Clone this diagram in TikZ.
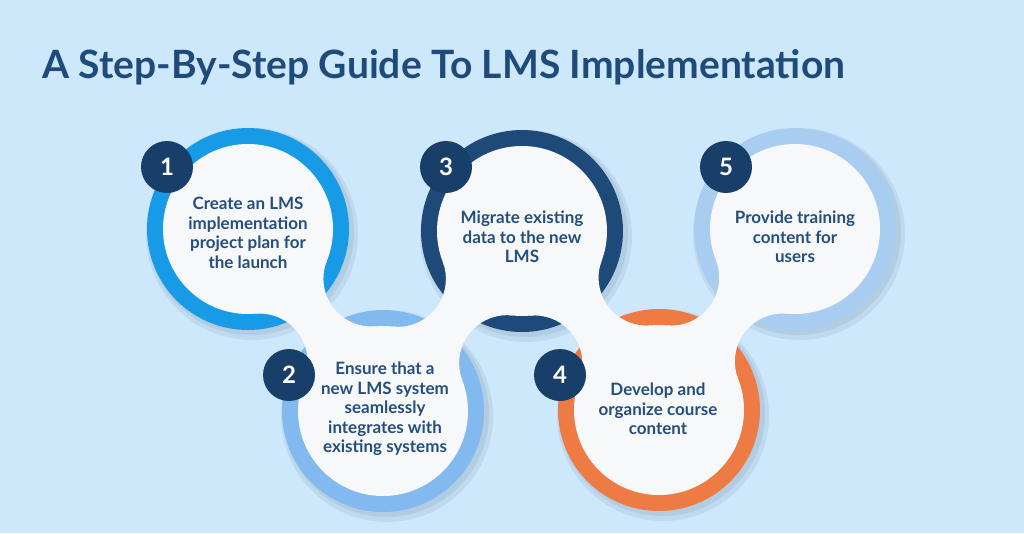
\documentclass[tikz,border=0pt]{standalone}
\usepackage{fontspec}
\setmainfont{Lato}
\usetikzlibrary{calc}
\definecolor{bg}{HTML}{CDE7FB}
\definecolor{ringA}{HTML}{189BE6}
\definecolor{ringB}{HTML}{82B9EE}
\definecolor{ringC}{HTML}{1D4A78}
\definecolor{ringD}{HTML}{EE7A44}
\definecolor{ringE}{HTML}{A9CDF1}
\definecolor{innerc}{HTML}{F7F8FA}
\definecolor{navy}{HTML}{173F69}
\definecolor{txt}{HTML}{244E7D}
\definecolor{titlec}{HTML}{1F4B7B}
\def\Rin{85}
\def\Rout{101}
\def\Rf{48}
\newcommand\mkneck[3]{%
  \path let \p1=(#1), \p2=(#2),
    \n1={veclen(\x2-\x1,\y2-\y1)/2},
    \n2={100*sqrt(((\Rin+\Rf)/100)^2-(\n1/100)^2)} in
    coordinate (#3a) at ($(#1)!0.5!(#2)!\n2!90:(#2)$)
    coordinate (#3b) at ($(#1)!0.5!(#2)!\n2!-90:(#2)$);
  \path coordinate (#3a1) at ($(#1)!{\Rin/(\Rin+\Rf)}!(#3a)$)
        coordinate (#3a2) at ($(#2)!{\Rin/(\Rin+\Rf)}!(#3a)$)
        coordinate (#3b1) at ($(#1)!{\Rin/(\Rin+\Rf)}!(#3b)$)
        coordinate (#3b2) at ($(#2)!{\Rin/(\Rin+\Rf)}!(#3b)$);
  \fill[innerc] let \p1=(#3a), \p2=(#3a1), \p3=(#3a2),
      \p4=(#3b), \p5=(#3b2), \p6=(#3b1),
      \n1={atan2(\y2-\y1,\x2-\x1)}, \n2={atan2(\y3-\y1,\x3-\x1)},
      \n3={mod(\n2-\n1+540,360)-180},
      \n4={atan2(\y5-\y4,\x5-\x4)}, \n5={atan2(\y6-\y4,\x6-\x4)},
      \n6={mod(\n5-\n4+540,360)-180} in
    (#1) -- (#3a1) arc[start angle=-\n1, delta angle=-\n3, radius=\Rf]
    -- (#2) -- (#3b2) arc[start angle=-\n4, delta angle=-\n6, radius=\Rf]
    -- cycle;}
\tikzset{
  badge/.style={circle, fill=navy, minimum size=52pt, inner sep=0pt, text=white,
    font=\fontsize{24}{24}\selectfont\bfseries},
  steptext/.style={align=center, text=txt, font=\fontsize{17}{19.6}\selectfont\bfseries},
  shadowc/.style={fill=black!40!ringC, opacity=0.07}
}
\begin{document}
\begin{tikzpicture}[x=1pt,y=-1pt]
\useasboundingbox (0,0) rectangle (1024,533);
\fill[bg] (0,0) rectangle (1024,533);
\node[anchor=base west, inner sep=0pt, text=titlec,
  font=\fontsize{39}{39}\selectfont\bfseries] (title) at (42,78)
  {A Step-By-Step Guide To LMS Implementation};
\coordinate (c1) at (248,229);
\coordinate (c2) at (383,411);
\coordinate (c3) at (522,231);
\coordinate (c4) at (659,410);
\coordinate (c5) at (795,229);
% soft shadows
\foreach \c in {c1,c2,c3,c4,c5}{
  \fill[shadowc] ($(\c)+(4,5)$) circle[radius=\Rout+5];
  \fill[shadowc] ($(\c)+(3,3)$) circle[radius=\Rout+2];
}
% rings
\fill[ringA] (c1) circle[radius=\Rout];
\fill[ringB] (c2) circle[radius=\Rout];
\fill[ringC] (c3) circle[radius=\Rout];
\fill[ringD] (c4) circle[radius=\Rout];
\fill[ringE] (c5) circle[radius=\Rout];
% inner discs
\foreach \c in {c1,c2,c3,c4,c5}{
  \fill[innerc] (\c) circle[radius=\Rin];
}
% necks
\mkneck{c1}{c2}{n12}
\mkneck{c2}{c3}{n23}
\mkneck{c3}{c4}{n34}
\mkneck{c4}{c5}{n45}
% badges
\node[badge] (b1) at (167,167) {1};
\node[badge] (b2) at (289,375) {2};
\node[badge] (b3) at (446,167) {3};
\node[badge] (b4) at (560,375) {4};
\node[badge] (b5) at (726,167) {5};
% texts
\node[steptext] (t1) at (248,233) {Create an LMS\\implementation\\project plan for\\the launch};
\node[steptext] (t2) at (385,409) {Ensure that a\\new LMS system\\seamlessly\\integrates with\\existing systems};
\node[steptext] (t3) at (522,237) {Migrate existing\\data to the new\\LMS};
\node[steptext] (t4) at (658,409) {Develop and\\organize course\\content};
\node[steptext] (t5) at (795,237) {Provide training\\content for\\users};
\end{tikzpicture}
\end{document}
